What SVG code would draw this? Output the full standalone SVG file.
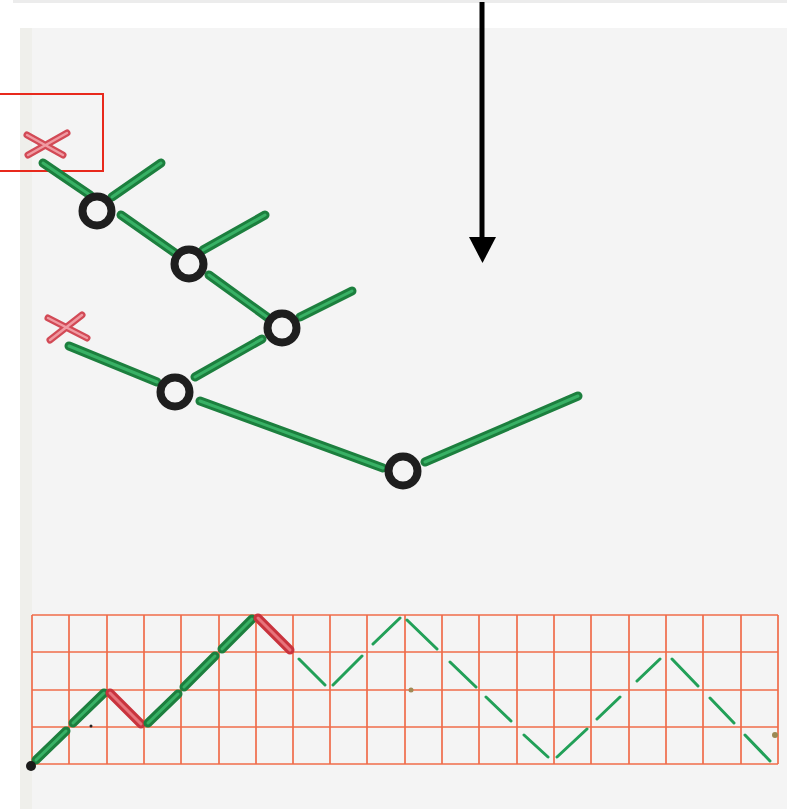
<svg xmlns="http://www.w3.org/2000/svg" xmlns:xlink="http://www.w3.org/1999/xlink" width="787" height="809" viewBox="0 0 787 809">
<style>
.gO{fill:none;stroke:#1c7f3e;stroke-width:9;stroke-linecap:round}
.gI{fill:none;stroke:#3dba6c;stroke-width:3;stroke-linecap:round;opacity:.85}
.rO{fill:none;stroke:#c9333d;stroke-width:9;stroke-linecap:round}
.rI{fill:none;stroke:#ea7a82;stroke-width:3;stroke-linecap:round;opacity:.9}
.xO{fill:none;stroke:#d24a56;stroke-width:7;stroke-linecap:round}
.xI{fill:none;stroke:#f09aa2;stroke-width:2.5;stroke-linecap:round}
.ring{fill:none;stroke:#1e1e1e;stroke-width:8}
.grid{stroke:#ef6c4a;stroke-width:1.7;fill:none}
.thin{stroke:#22a058;stroke-width:3;stroke-linecap:round;fill:none}
</style>
<defs>
<path id="e1" d="M43,163L90,195"/>
<path id="e2" d="M112,197L161,163"/>
<path id="e3" d="M121,215L175,253"/>
<path id="e4" d="M203,250L265,215"/>
<path id="e5" d="M209,275L267,317"/>
<path id="e6" d="M300,317L352,291"/>
<path id="e7" d="M262,339L195,377"/>
<path id="e8" d="M69,346L157,382"/>
<path id="e9" d="M200,401L383,468"/>
<path id="e10" d="M425,462L578,396"/>
<path id="x1" d="M27,135L63,155M28,155L67,133"/>
<path id="x2" d="M48,318L87,338M50,340L82,315"/>
<path id="s1" d="M36,760L66,731"/>
<path id="s2" d="M73,723L104,693"/>
<path id="s3" d="M110,693L141,724"/>
<path id="s4" d="M148,723L178,694"/>
<path id="s5" d="M184,687L215,656"/>
<path id="s6" d="M222,649L252,619"/>
<path id="s7" d="M258,618L290,650"/>
</defs>
<rect x="0" y="0" width="787" height="809" fill="#ffffff"/>
<rect x="13" y="0" width="774" height="3" fill="#ececec"/>
<rect x="20" y="28" width="767" height="781" fill="#f4f4f4"/>
<rect x="20" y="28" width="12" height="781" fill="#efefeb"/>
<g id="arrow">
<line x1="482" y1="2" x2="482" y2="240" stroke="#000" stroke-width="5"/>
<polygon points="469,237 496,237 482.5,263" fill="#000"/>
</g>
<rect id="highlight" x="-2" y="94" width="105" height="77" fill="none" stroke="#e8291c" stroke-width="2"/>
<g id="connectors">
<use href="#e1" class="gO"/><use href="#e1" class="gI"/>
<use href="#e2" class="gO"/><use href="#e2" class="gI"/>
<use href="#e3" class="gO"/><use href="#e3" class="gI"/>
<use href="#e4" class="gO"/><use href="#e4" class="gI"/>
<use href="#e5" class="gO"/><use href="#e5" class="gI"/>
<use href="#e6" class="gO"/><use href="#e6" class="gI"/>
<use href="#e7" class="gO"/><use href="#e7" class="gI"/>
<use href="#e8" class="gO"/><use href="#e8" class="gI"/>
<use href="#e9" class="gO"/><use href="#e9" class="gI"/>
<use href="#e10" class="gO"/><use href="#e10" class="gI"/>
</g>
<g id="cross1"><use href="#x1" class="xO"/><use href="#x1" class="xI"/></g>
<g id="cross2"><use href="#x2" class="xO"/><use href="#x2" class="xI"/></g>
<g id="node1"><circle class="ring" cx="97" cy="211" r="14.5"/></g>
<g id="node2"><circle class="ring" cx="189" cy="264" r="14.5"/></g>
<g id="node3"><circle class="ring" cx="282" cy="328" r="14.5"/></g>
<g id="node4"><circle class="ring" cx="175" cy="392" r="14.5"/></g>
<g id="node5"><circle class="ring" cx="403" cy="471" r="14.5"/></g>
<g id="grid" class="grid">
<path d="M32,615H778M32,652H778M32,690H778M32,727H778M32,764H778"/>
<path d="M32,615V764M69,615V764M107,615V764M144,615V764M181,615V764M219,615V764M256,615V764M293,615V764M330,615V764M367,615V764M405,615V764M442,615V764M479,615V764M517,615V764M554,615V764M591,615V764M629,615V764M666,615V764M703,615V764M741,615V764M778,615V764"/>
</g>
<g id="grid-path">
<use href="#s1" class="gO"/><use href="#s1" class="gI"/>
<use href="#s2" class="gO"/><use href="#s2" class="gI"/>
<use href="#s3" class="rO"/><use href="#s3" class="rI"/>
<use href="#s4" class="gO"/><use href="#s4" class="gI"/>
<use href="#s5" class="gO"/><use href="#s5" class="gI"/>
<use href="#s6" class="gO"/><use href="#s6" class="gI"/>
<use href="#s7" class="rO"/><use href="#s7" class="rI"/>
<circle cx="31" cy="766" r="5" fill="#1a1a1a"/>
</g>
<g id="grid-thin" class="thin">
<path d="M299,659L325,685M333,685L362,656M373,644L400,618M407,620L437,649M450,662L476,687M486,697L511,721M524,735L548,757M557,757L587,729M597,719L620,697M637,681L660,659M672,659L698,686M710,698L734,723M745,735L770,761"/>
</g>
<g id="specks">
<circle cx="411" cy="690" r="2.5" fill="#a08a55"/>
<circle cx="775" cy="735" r="3" fill="#9a8a55"/>
<circle cx="91" cy="726" r="1.5" fill="#222"/>
</g>
</svg>
